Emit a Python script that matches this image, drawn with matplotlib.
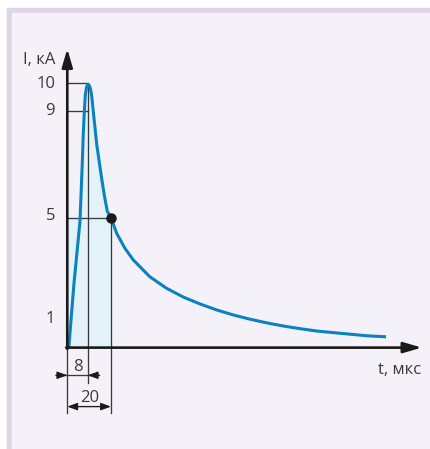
import matplotlib.pyplot as plt
import matplotlib.patches as mpatches
import numpy as np

# импульс тока молнии 8/20 мкс
T_CURVE = [0.7, 3.05, 5.8, 6.3, 6.9, 7.3, 7.8, 8.25, 8.9, 9.45, 10.1, 10.7, 11.3,
           11.9, 12.7, 13.5, 14.6, 15.7, 16.9, 18.3, 20.0, 22.6, 26.4, 30.2,
           37.8, 45.5, 53.1, 60.7, 68.4, 76.0, 83.6, 91.3, 98.9, 106.5, 114.1,
           121.7, 129.4, 137.0, 145.9]
I_CURVE = [0.0, 2.42, 4.78, 5.81, 7.08, 8.09, 8.97, 9.6, 9.92, 10.0, 9.95, 9.8, 9.48,
           8.97, 8.34, 7.7, 7.08, 6.44, 5.81, 5.18, 4.93, 4.34, 3.77, 3.33,
           2.69, 2.25, 1.92, 1.66, 1.43, 1.24, 1.08, 0.94, 0.82, 0.72, 0.63,
           0.57, 0.51, 0.45, 0.41]

Y_TICKS = [10, 9, 5, 1]
T_MARKS = [9.35, 20.0]       # положение линий "8" и "20" на оси
MARK_LABELS = ["8", "20"]

CURVE_COLOR = "#0A82C0"
FILL_COLOR = "#E3F1F9"
AXIS_COLOR = "#1A1A1A"
LINE_COLOR = "#3A3A3A"
TEXT_COLOR = "#3A3A3A"
PANEL_COLOR = "#F4F2F8"
BORDER_COLOR = "#DFD4E8"

plt.rcParams["font.family"] = ["Open Sans", "DejaVu Sans"]

fig = plt.figure(figsize=(4.31, 4.49), dpi=100, facecolor="white")

# фон-панель с рамкой сверху и слева
fig.patches.append(mpatches.Rectangle((7 / 431, 0), 1, 1 - 8 / 449, transform=fig.transFigure,
                                      color=BORDER_COLOR, zorder=-2))
fig.patches.append(mpatches.Rectangle((12 / 431, 0), 1, 1 - 13 / 449, transform=fig.transFigure,
                                      color=PANEL_COLOR, zorder=-1))

ax = fig.add_axes([0, 0, 1, 1])
ax.set_zorder(2)
ax.set_facecolor("none")
ax.set_xlim(-30.8, 166.5)
ax.set_ylim(-3.85, 13.2)
ax.axis("off")

t = np.array(T_CURVE)
i = np.array(I_CURVE)
t_peak, t_half = T_MARKS
i_half = I_CURVE[T_CURVE.index(t_half)]

# заливка: прямоугольник до 20 мкс и площадь под кривой
ax.fill_between([0, t_half], 0, i_half, color=FILL_COLOR, lw=0, zorder=1)
m = t <= t_half
ax.fill_between(np.r_[0, t[m]], 0, np.r_[0, i[m]], color=FILL_COLOR, lw=0, zorder=1)

# вспомогательные линии
lw_thin = 0.95
ax.plot([0, t_peak], [10.05, 10.05], color=LINE_COLOR, lw=lw_thin, zorder=2)
ax.plot([0, t_peak], [9, 9], color=LINE_COLOR, lw=lw_thin, zorder=2)
ax.plot([0, t_half], [i_half, i_half], color=LINE_COLOR, lw=lw_thin, zorder=2)
ax.plot([t_peak, t_peak], [10, -1.33], color=LINE_COLOR, lw=lw_thin, zorder=2)
ax.plot([t_half, t_half], [i_half, -2.48], color=LINE_COLOR, lw=lw_thin, zorder=2)
ax.plot([0, 0], [0, -2.48], color=LINE_COLOR, lw=lw_thin, zorder=2)

# кривая
ax.plot(t, i, color=CURVE_COLOR, lw=2.2, solid_joinstyle="round", solid_capstyle="butt", zorder=4)
ax.plot(t_half, i_half, "o", color=AXIS_COLOR, ms=6.5, zorder=5)

# оси со стрелками
axis_arrow = dict(arrowstyle="-|>,head_length=1.1,head_width=0.32", color=AXIS_COLOR,
                  lw=1.9, mutation_scale=10, shrinkA=0, shrinkB=0)
ax.annotate("", xy=(0, 11.35), xytext=(0, -0.05), arrowprops=axis_arrow, zorder=6)
ax.annotate("", xy=(162.3, 0), xytext=(-0.5, 0), arrowprops=axis_arrow, zorder=6)

# размерные стрелки
dim_arrow = dict(arrowstyle="-|>,head_length=0.6,head_width=0.22", color=AXIS_COLOR,
                 lw=lw_thin, mutation_scale=10, shrinkA=0, shrinkB=0)
ax.plot([-5.2, 14.6], [-1.05, -1.05], color=LINE_COLOR, lw=lw_thin, zorder=2)
ax.annotate("", xy=(0, -1.05), xytext=(-5.2, -1.05), arrowprops=dim_arrow)
ax.annotate("", xy=(t_peak, -1.05), xytext=(14.6, -1.05), arrowprops=dim_arrow)
ax.annotate("", xy=(0, -2.24), xytext=(t_half, -2.24),
            arrowprops=dict(dim_arrow, arrowstyle="<|-|>,head_length=0.6,head_width=0.22"))

FS = 12
ax.text(4.9, -0.72, MARK_LABELS[0], ha="center", va="center", fontsize=FS, color=TEXT_COLOR)
ax.text(10.2, -1.9, MARK_LABELS[1], ha="center", va="center", fontsize=FS, color=TEXT_COLOR)

# подписи оси I
for v in Y_TICKS:
    ax.text(-5.6, v + (0.1 if v == 1 else 0), str(v), ha="right", va="center",
            fontsize=FS, color=TEXT_COLOR)
ax.text(-5.6, 10.92, "I, кА", ha="right", va="center", fontsize=FS, color=TEXT_COLOR)
ax.text(142.2, -0.85, "t, мкс", ha="left", va="center", fontsize=FS, color=TEXT_COLOR)

fig.savefig("out.png", dpi=100, facecolor="white")
